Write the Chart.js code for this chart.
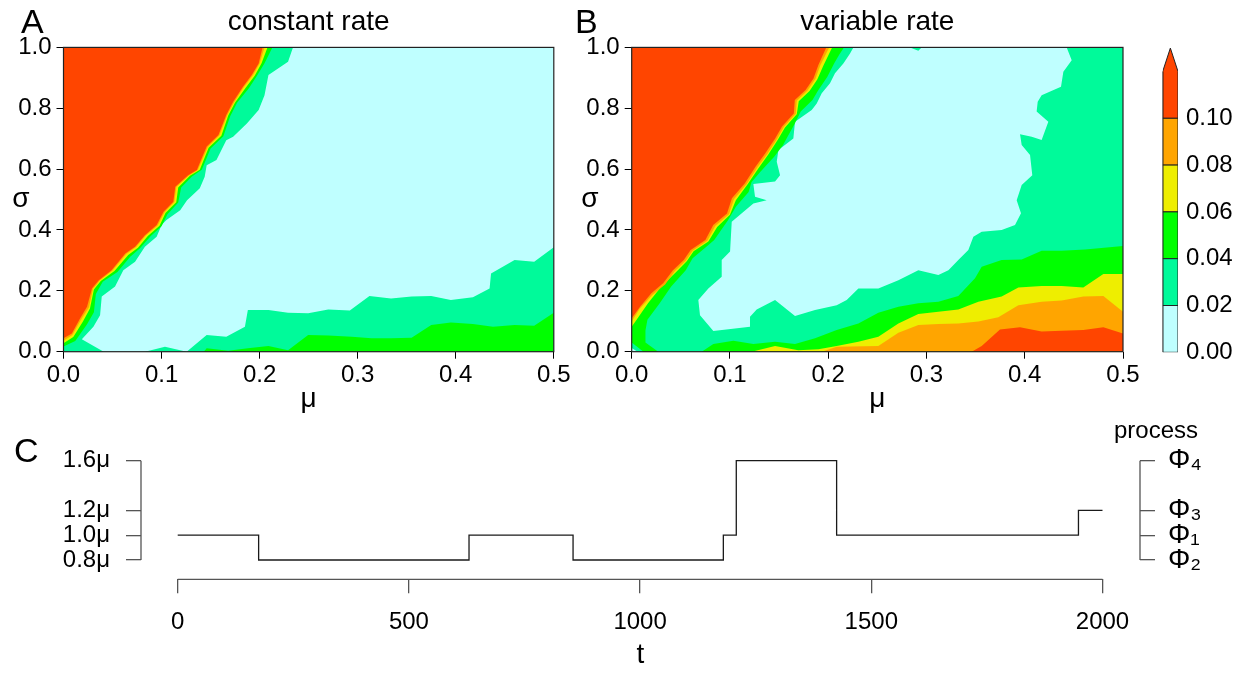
<!DOCTYPE html>
<html>
<head>
<meta charset="utf-8">
<script src="https://cdn.jsdelivr.net/npm/chart.js@4.4.1/dist/chart.umd.min.js"></script>
<style>
  html, body { margin: 0; padding: 0; background: #fff; }
  body { position: relative; width: 1249px; height: 673px; overflow: hidden;
         font-family: "Liberation Sans", Arial, sans-serif; color: #000; }
  canvas { position: absolute; }
  .txt { position: absolute; line-height: 1; white-space: nowrap; }
</style>
</head>
<body>
<canvas id="chartA" width="600" height="430" style="left:0px;top:0px"></canvas>
<canvas id="chartB" width="590" height="430" style="left:570px;top:0px"></canvas>
<canvas id="chartKey" width="109" height="430" style="left:1140px;top:0px"></canvas>
<canvas id="chartC" width="1249" height="273" style="left:0px;top:400px"></canvas>

<div class="txt" style="left:21px;top:4px;font-size:34px">A</div>
<div class="txt" style="left:575px;top:4px;font-size:34px">B</div>
<div class="txt" style="left:14px;top:433px;font-size:34px">C</div>
<div class="txt" style="left:0px;width:42px;text-align:center;top:184px;font-size:28px">σ</div>
<div class="txt" style="left:569px;width:42px;text-align:center;top:184px;font-size:28px">σ</div>
<div class="txt" style="left:1114px;top:418px;font-size:24px">process</div>

<script>
/* contour panels A/B + colour key + rate process C */

const FONT = '"Liberation Sans", Arial, sans-serif';
Chart.defaults.font.family = FONT;
Chart.defaults.color = '#000';

// ── Shared axis values ────────────────────────────────────────────────────
const muTicks    = [0, 0.1, 0.2, 0.3, 0.4, 0.5];
const sigmaTicks = [0, 0.2, 0.4, 0.6, 0.8, 1.0];
const levels     = [0, 0.02, 0.04, 0.06, 0.08, 0.10, 0.12];
const keyTip     = 0.13;
const levelColors = ['#BFFFFF', '#00FA9A', '#00FF00', '#EEEE00', '#FFA500', '#FF4500'];

// ── Panel A: constant rate  (contour edges as [mu, sigma]) ───────────────
const aTealEdge = [[0,0],[0.041,0],[0.0187,0.041],[0.0305,0.082],[0.0373,0.12],[0.039,0.181],[0.0526,0.214],
  [0.061,0.268],[0.073,0.296],[0.083,0.345],[0.095,0.378],[0.100,0.416],[0.105,0.433],[0.119,0.465],[0.126,0.498],
  [0.139,0.537],[0.144,0.575],[0.146,0.613],[0.156,0.630],[0.166,0.695],[0.173,0.706],[0.187,0.750],[0.199,0.794],
  [0.205,0.843],[0.209,0.909],[0.229,0.953],[0.234,1.0]];
const aGreenEdge = [[0,0.017],[0.012,0.035],[0.024,0.09],[0.031,0.13],[0.033,0.19],[0.040,0.23],[0.055,0.262],
  [0.068,0.312],[0.078,0.34],[0.089,0.38],[0.100,0.412],[0.106,0.452],[0.117,0.49],[0.120,0.54],[0.131,0.576],
  [0.141,0.598],[0.150,0.668],[0.163,0.708],[0.170,0.774],[0.177,0.818],[0.189,0.866],[0.197,0.905],[0.205,0.948],[0.213,1.0]];
const aYellowEdge = [[0,0.028],[0.010,0.048],[0.020,0.10],[0.027,0.142],[0.031,0.204],[0.038,0.232],[0.052,0.265],
  [0.066,0.318],[0.076,0.342],[0.086,0.38],[0.098,0.414],[0.104,0.456],[0.115,0.491],[0.117,0.54],[0.129,0.578],
  [0.139,0.598],[0.148,0.670],[0.161,0.710],[0.168,0.776],[0.175,0.819],[0.186,0.868],[0.195,0.907],[0.202,0.948],[0.208,1.0]];
const aOrangeEdge = [[0,0.036],[0.009,0.055],[0.018,0.106],[0.026,0.146],[0.030,0.206],[0.037,0.234],[0.050,0.267],
  [0.064,0.321],[0.074,0.344],[0.084,0.382],[0.096,0.415],[0.103,0.458],[0.113,0.492],[0.115,0.541],[0.128,0.579],
  [0.137,0.597],[0.147,0.672],[0.159,0.711],[0.167,0.777],[0.174,0.820],[0.184,0.870],[0.193,0.908],[0.200,0.947],[0.205,1.0]];
const aRedEdge = [[0,0.044],[0.0085,0.060],[0.017,0.110],[0.024,0.148],[0.029,0.208],[0.036,0.235],[0.049,0.268],
  [0.063,0.323],[0.073,0.345],[0.083,0.383],[0.095,0.416],[0.102,0.460],[0.112,0.493],[0.114,0.542],[0.127,0.580],
  [0.136,0.597],[0.146,0.674],[0.158,0.712],[0.166,0.778],[0.173,0.821],[0.183,0.871],[0.192,0.909],[0.199,0.947],[0.203,1.0]];
const aTealBottom = [[0.083,0],[0.1035,0.016],[0.1256,0],[0.146,0.055],[0.166,0.049],[0.185,0.082],[0.188,0.137],
  [0.209,0.137],[0.229,0.128],[0.2495,0.126],[0.270,0.139],[0.292,0.135],[0.312,0.183],[0.334,0.175],[0.355,0.181],
  [0.375,0.183],[0.395,0.170],[0.4175,0.179],[0.4345,0.208],[0.436,0.257],[0.460,0.301],[0.480,0.296],[0.5,0.343]];
const aGreenBottom = [[0.143,0],[0.146,0.011],[0.168,0.003],[0.188,0.011],[0.209,0.019],[0.229,0.005],[0.2495,0.055],
  [0.270,0.053],[0.294,0.049],[0.314,0.044],[0.334,0.044],[0.355,0.046],[0.375,0.088],[0.395,0.096],[0.4175,0.091],
  [0.438,0.082],[0.460,0.088],[0.480,0.085],[0.5,0.128]];

// ── Panel B: variable rate ────────────────────────────────────────────────
const bCyanIsland = [[0.2256,1.0],[0.2832,1.0],[0.2917,0.989],[0.2951,1.0],[0.4427,1.0],[0.4478,0.958],[0.4393,0.920],
  [0.4369,0.871],[0.4172,0.843],[0.4132,0.821],[0.4121,0.789],[0.4240,0.756],[0.4172,0.696],[0.4071,0.706],[0.3952,0.715],
  [0.3969,0.679],[0.4054,0.646],[0.4077,0.580],[0.3969,0.548],[0.3918,0.498],[0.3962,0.455],[0.3901,0.416],[0.3765,0.400],
  [0.3562,0.394],[0.3477,0.378],[0.3426,0.334],[0.3324,0.301],[0.3223,0.268],[0.3121,0.252],[0.2917,0.268],[0.2714,0.235],
  [0.2510,0.208],[0.2307,0.208],[0.2188,0.170],[0.2086,0.153],[0.1866,0.137],[0.1662,0.117],[0.1459,0.170],[0.1272,0.139],
  [0.1204,0.115],[0.1204,0.082],[0.0831,0.068],[0.0695,0.120],[0.0678,0.170],[0.0780,0.208],[0.0916,0.246],[0.0916,0.301],
  [0.1001,0.329],[0.1018,0.427],[0.1238,0.487],[0.1374,0.498],[0.1255,0.509],[0.1238,0.551],[0.1459,0.559],[0.1510,0.580],
  [0.1476,0.624],[0.1493,0.663],[0.1645,0.701],[0.1662,0.756],[0.1832,0.794],[0.1883,0.816],[0.1934,0.849],[0.2018,0.882],
  [0.2069,0.915],[0.2154,0.947],[0.2222,0.980]];
const bCyanCorner = [[0,0],[0,0.012],[0.006,0]];
const bGreenEdge = [[0,0.03],[0.012,0],[0.027,0],[0.014,0.03],[0.014,0.07],[0.016,0.105],[0.0285,0.159],[0.040,0.2135],
  [0.055,0.268],[0.062,0.307],[0.076,0.345],[0.084,0.367],[0.098,0.432],[0.106,0.476],[0.119,0.525],[0.122,0.558],
  [0.131,0.591],[0.145,0.641],[0.154,0.679],[0.166,0.750],[0.172,0.789],[0.184,0.827],[0.190,0.860],[0.199,0.903],
  [0.206,0.947],[0.211,0.975],[0.216,1.0]];
const bYellowEdge = [[0,0.082],[0.005,0.105],[0.0166,0.159],[0.030,0.2135],[0.047,0.268],[0.056,0.297],[0.063,0.33],
  [0.078,0.362],[0.087,0.41],[0.100,0.45],[0.106,0.498],[0.118,0.55],[0.129,0.603],[0.139,0.648],[0.149,0.698],
  [0.156,0.737],[0.168,0.780],[0.170,0.823],[0.181,0.857],[0.189,0.895],[0.195,0.94],[0.204,1.0]];
const bOrangeEdge = [[0,0.099],[0.008,0.140],[0.021,0.186],[0.034,0.221],[0.044,0.265],[0.055,0.299],[0.062,0.332],
  [0.077,0.365],[0.085,0.413],[0.099,0.452],[0.104,0.501],[0.117,0.551],[0.128,0.606],[0.138,0.650],[0.148,0.700],
  [0.155,0.739],[0.167,0.782],[0.168,0.825],[0.179,0.858],[0.187,0.897],[0.192,0.941],[0.201,1.0]];
const bRedEdge = [[0,0.110],[0.0085,0.148],[0.020,0.192],[0.032,0.225],[0.042,0.268],[0.053,0.301],[0.060,0.334],
  [0.075,0.367],[0.083,0.416],[0.097,0.454],[0.102,0.504],[0.115,0.553],[0.126,0.608],[0.136,0.652],[0.146,0.701],
  [0.153,0.740],[0.165,0.783],[0.166,0.827],[0.177,0.860],[0.185,0.898],[0.190,0.942],[0.198,1.0]];
const bGreenBottom = [[0.0712,0],[0.0831,0.025],[0.1035,0.036],[0.1238,0.025],[0.1459,0.033],[0.1662,0.025],
  [0.1866,0.044],[0.2086,0.071],[0.2307,0.093],[0.2510,0.128],[0.2714,0.148],[0.2917,0.159],[0.3121,0.164],
  [0.3324,0.183],[0.3494,0.241],[0.3562,0.279],[0.3765,0.301],[0.3969,0.303],[0.4172,0.332],[0.4376,0.332],
  [0.4613,0.336],[0.5,0.347]];
const bYellowBottom = [[0.1221,0],[0.1459,0.019],[0.1696,0.005],[0.190,0.008],[0.2086,0.019],[0.2307,0.033],
  [0.2510,0.049],[0.2714,0.093],[0.2917,0.124],[0.3121,0.131],[0.3324,0.139],[0.3528,0.164],[0.3765,0.181],
  [0.3935,0.211],[0.4172,0.216],[0.4376,0.216],[0.4596,0.211],[0.480,0.255],[0.5,0.255]];
const bOrangeBottom = [[0.1934,0],[0.2086,0.016],[0.2510,0.019],[0.2714,0.062],[0.2917,0.088],[0.3121,0.091],
  [0.3324,0.093],[0.3528,0.099],[0.3731,0.113],[0.3935,0.153],[0.4172,0.164],[0.4376,0.168],[0.4596,0.181],
  [0.480,0.183],[0.5,0.131]];
const bRedBottom = [[0.346,0],[0.3562,0.019],[0.3748,0.073],[0.3952,0.080],[0.4172,0.066],[0.4376,0.069],
  [0.4596,0.071],[0.480,0.080],[0.5,0.060]];

// ── Panel C: rate process ─────────────────────────────────────────────────
const tTicks = [0, 500, 1000, 1500, 2000];
const rateTicks = [0.8, 1.0, 1.2, 1.6];
const processLabels = ['Φ₂', 'Φ₁', 'Φ₃', 'Φ₄'];
const switchTimes = [0, 175, 630, 855, 1180, 1208, 1425, 1948, 2000];
const rateValues  = [1.0, 0.8, 1.0, 0.8, 1.0, 1.6, 1.0, 1.2, 1.2];

// ── Helpers ───────────────────────────────────────────────────────────────
const MU_MAX = 0.5, SIGMA_MAX = 1.0;
const plotRect = [[0,0],[MU_MAX,0],[MU_MAX,SIGMA_MAX],[0,SIGMA_MAX]];
const topLeft = [0, SIGMA_MAX];
const bottomRight = [MU_MAX, 0];

function polyDataset(points, color, order, border) {
    return {
        data: points.map(p => ({ x: p[0], y: p[1] })),
        showLine: true, fill: 'shape', tension: 0,
        backgroundColor: color,
        borderColor: border || 'rgba(0,0,0,0)',
        borderWidth: border ? 1 : 0,
        pointRadius: 0, pointHoverRadius: 0,
        order: order
    };
}

const frame = {
    id: 'frame',
    afterDraw(chart) {
        const { ctx, chartArea: a } = chart;
        ctx.save();
        ctx.strokeStyle = '#222';
        ctx.lineWidth = 1.2;
        ctx.strokeRect(a.left, a.top, a.right - a.left, a.bottom - a.top);
        ctx.restore();
    }
};

function contourChart(id, title, layers, yWidth, padRight) {
    const n = layers.length;
    return new Chart(document.getElementById(id), {
        type: 'scatter',
        data: { datasets: layers.map((l, i) => polyDataset(l[0], levelColors[l[1]], n - i)) },
        options: {
            responsive: false, animation: false, events: [],
            layout: { autoPadding: false, padding: { left: 0, right: padRight, top: 0, bottom: 0 } },
            plugins: {
                legend: { display: false }, tooltip: { enabled: false },
                title: { display: true, fullSize: false, text: title, color: '#000',
                         font: { size: 28, weight: 'normal' }, padding: { top: 5, bottom: 8.8 } }
            },
            scales: {
                x: {
                    type: 'linear', min: 0, max: MU_MAX,
                    border: { display: false },
                    grid: { drawOnChartArea: false, tickLength: 7, color: '#000' },
                    afterBuildTicks: s => { s.ticks = muTicks.map(v => ({ value: v })); },
                    ticks: { font: { size: 24 }, padding: 2, maxRotation: 0, autoSkip: false, callback: v => v.toFixed(1) },
                    title: { display: true, text: 'μ', font: { size: 28 }, padding: { top: 0, bottom: 14 } },
                    afterFit: s => { s.height = 78.3; }
                },
                y: {
                    type: 'linear', min: 0, max: SIGMA_MAX,
                    border: { display: false },
                    grid: { drawOnChartArea: false, tickLength: 7, color: '#000' },
                    afterBuildTicks: s => { s.ticks = sigmaTicks.map(v => ({ value: v })); },
                    ticks: { font: { size: 24 }, padding: 5, autoSkip: false, callback: v => v.toFixed(1) },
                    afterFit: s => { s.width = yWidth; }
                }
            }
        },
        plugins: [frame]
    });
}

// ── Panels A and B (painted from lowest level up) ────────────────────────
contourChart('chartA', 'constant rate', [
    [plotRect, 0],
    [aTealEdge.concat([topLeft]), 1],
    [aTealBottom.concat([bottomRight]), 1],
    [aGreenEdge.concat([topLeft]), 2],
    [aGreenBottom.concat([bottomRight]), 2],
    [aYellowEdge.concat([topLeft]), 3],
    [aOrangeEdge.concat([topLeft]), 4],
    [aRedEdge.concat([topLeft]), 5]
], 63.5, 46.2);

contourChart('chartB', 'variable rate', [
    [plotRect, 1],
    [bCyanIsland, 0],
    [bCyanCorner, 0],
    [bGreenEdge.concat([topLeft]), 2],
    [bGreenBottom.concat([bottomRight]), 2],
    [bYellowEdge.concat([topLeft]), 3],
    [bYellowBottom.concat([bottomRight]), 3],
    [bOrangeEdge.concat([topLeft]), 4],
    [bOrangeBottom.concat([bottomRight]), 4],
    [bRedEdge.concat([topLeft]), 5],
    [bRedBottom.concat([bottomRight]), 5]
], 61.7, 37);

// ── Colour key ────────────────────────────────────────────────────────────
const keyShapes = levelColors.map((c, i) => {
    const lo = levels[i], hi = levels[i + 1];
    if (i < levelColors.length - 1) return [[0, lo], [1, lo], [1, hi], [0, hi], [0, lo]];
    return [[0, lo], [1, lo], [1, hi], [0.5, keyTip], [0, hi], [0, lo]];
});

new Chart(document.getElementById('chartKey'), {
    type: 'scatter',
    data: { datasets: keyShapes.map((s, i) => polyDataset(s, levelColors[i], i + 1, '#222')) },
    options: {
        responsive: false, animation: false, events: [],
        layout: { autoPadding: false, padding: { left: 22.7, right: 0, top: 48.1, bottom: 77.7 } },
        plugins: { legend: { display: false }, tooltip: { enabled: false } },
        scales: {
            x: { type: 'linear', display: false, min: 0, max: 1 },
            y: {
                type: 'linear', position: 'right', min: 0, max: keyTip,
                border: { display: false },
                grid: { display: false, drawTicks: false },
                afterBuildTicks: s => { s.ticks = levels.slice(0, 6).map(v => ({ value: v })); },
                ticks: { font: { size: 24 }, padding: 8, autoSkip: false, callback: v => v.toFixed(2) },
                afterFit: s => { s.width = 71; }
            }
        }
    }
});

// ── Panel C ───────────────────────────────────────────────────────────────
const rAxes = {
    id: 'rAxes',
    afterDraw(chart) {
        const { ctx, chartArea: a, scales: { x, y } } = chart;
        const yTop = y.getPixelForValue(Math.max(...rateTicks));
        const yBot = y.getPixelForValue(Math.min(...rateTicks));
        ctx.save();
        ctx.strokeStyle = '#555';
        ctx.lineWidth = 1.3;
        ctx.beginPath();
        ctx.moveTo(x.getPixelForValue(tTicks[0]), a.bottom);
        ctx.lineTo(x.getPixelForValue(tTicks[tTicks.length - 1]), a.bottom);
        ctx.moveTo(a.left, yTop); ctx.lineTo(a.left, yBot);
        ctx.moveTo(a.right, yTop); ctx.lineTo(a.right, yBot);
        ctx.stroke();
        ctx.restore();
    }
};

const rateAxis = (position, width, labelFn, size, pad) => ({
    type: 'linear', position: position, min: 0.6443, max: 1.6,
    border: { display: false },
    grid: { drawOnChartArea: false, tickLength: 15, color: '#555', lineWidth: 1.3 },
    afterBuildTicks: s => { s.ticks = rateTicks.map(v => ({ value: v })); },
    ticks: { font: { size: size }, padding: pad, autoSkip: false, callback: labelFn },
    afterFit: s => { s.width = width; }
});

new Chart(document.getElementById('chartC'), {
    type: 'line',
    data: {
        datasets: [{
            data: switchTimes.map((t, i) => ({ x: t, y: rateValues[i] })),
            stepped: 'before',
            borderColor: '#1a1a1a', borderWidth: 1.3,
            pointRadius: 0, fill: false, clip: false
        }]
    },
    options: {
        responsive: false, animation: false, events: [],
        layout: { autoPadding: false, padding: { left: 0, right: 0, top: 60.7, bottom: 0 } },
        plugins: { legend: { display: false }, tooltip: { enabled: false } },
        scales: {
            x: {
                type: 'linear', min: -79.4, max: 2081.1,
                border: { display: false },
                grid: { drawOnChartArea: false, tickLength: 14, color: '#555', lineWidth: 1.3 },
                afterBuildTicks: s => { s.ticks = tTicks.map(v => ({ value: v })); },
                ticks: { font: { size: 24 }, padding: 15, maxRotation: 0, autoSkip: false, callback: v => String(v) },
                title: { display: true, text: 't', font: { size: 28 }, padding: { top: 0, bottom: 1 } },
                afterFit: s => { s.height = 93.7; }
            },
            y: rateAxis('left', 141, (v, i) => rateTicks[i].toFixed(1) + 'μ', 24, 16),
            y2: rateAxis('right', 109, (v, i) => processLabels[i], 28, 13)
        }
    },
    plugins: [rAxes]
});
</script>
</body>
</html>
